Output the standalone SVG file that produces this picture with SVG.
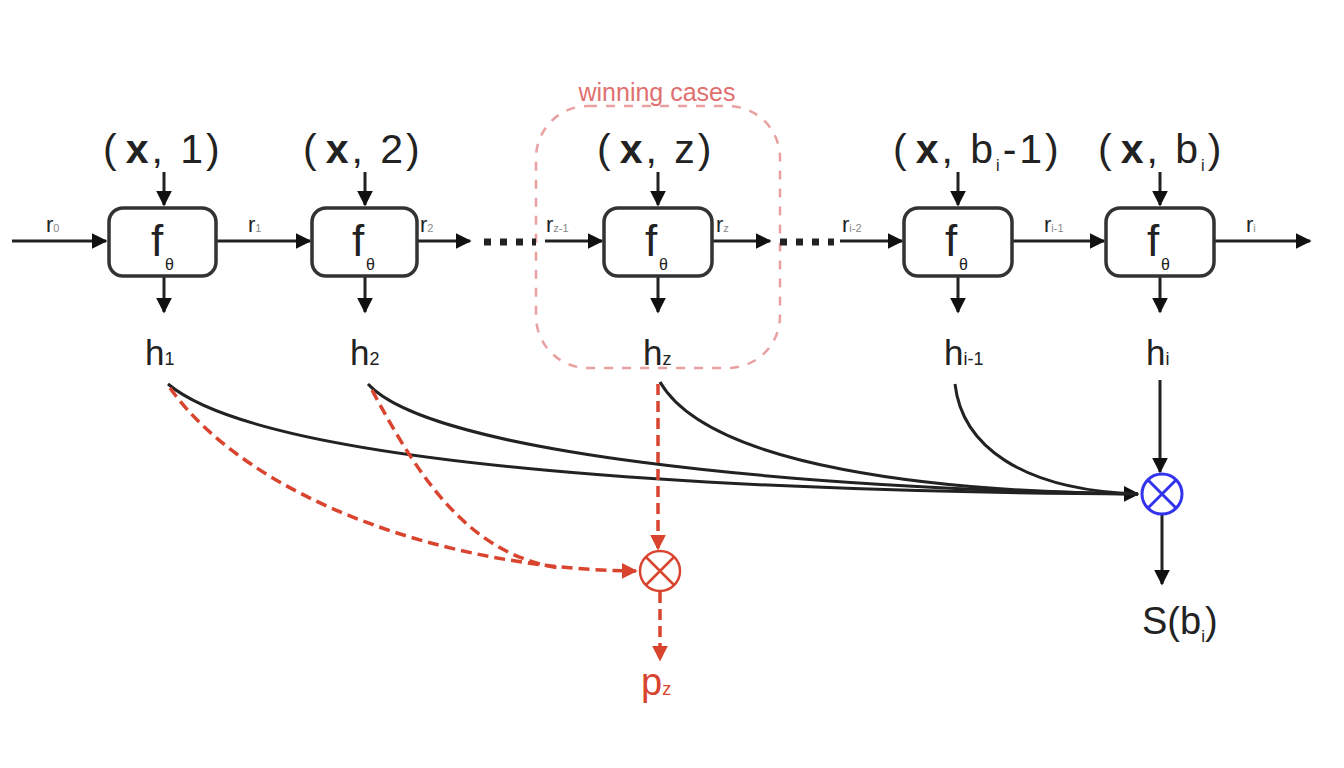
<svg xmlns="http://www.w3.org/2000/svg" width="1344" height="768" viewBox="0 0 1344 768">
<defs>
<marker id="ah" viewBox="0 0 10 10" refX="9" refY="5" markerWidth="16" markerHeight="16" markerUnits="userSpaceOnUse" orient="auto"><path d="M0,0 L10,5 L0,10 z" fill="#111"/></marker>
<marker id="ahr" viewBox="0 0 10 10" refX="9" refY="5" markerWidth="16" markerHeight="16" markerUnits="userSpaceOnUse" orient="auto"><path d="M0,0 L10,5 L0,10 z" fill="#d9442f"/></marker>
<style>
.box{fill:#fff;stroke:#333;stroke-width:3.5}
.ln{fill:none;stroke:#222;stroke-width:3}
.rd{fill:none;stroke:#d9442f;stroke-width:3.5;stroke-dasharray:11,6}
.t{font-family:"Liberation Sans",Arial,sans-serif;fill:#222}
.big{font-size:41px;letter-spacing:3px}
.f{font-size:44px}
.sub{font-size:16px}
.h{font-size:35px}
.rl{font-size:22px}
.rs{font-size:11px}
.dots{fill:none;stroke:#222;stroke-width:7;stroke-dasharray:7,9}
</style>
</defs>
<rect x="0" y="0" width="1344" height="768" fill="#fff"/>

<g id="winning">
<rect x="536" y="106" width="244" height="262" rx="52" fill="none" stroke="#e8a0a0" stroke-width="2.5" stroke-dasharray="9,9"/>
<text class="t" x="657" y="101" text-anchor="middle" style="font-size:25px;fill:#e07070">winning cases</text>
</g>

<g id="connectors">
<path class="ln" d="M12,241 L106,241" marker-end="url(#ah)"/>
<path class="ln" d="M216,241 L310,241" marker-end="url(#ah)"/>
<path class="ln" d="M417,241 L470,241" marker-end="url(#ah)"/>
<path class="dots" d="M484,242 L536,242"/>
<path class="ln" d="M545,241 L602,241" marker-end="url(#ah)"/>
<path class="ln" d="M712,241 L770,241" marker-end="url(#ah)"/>
<path class="dots" d="M780,242 L834,242"/>
<path class="ln" d="M840,241 L902,241" marker-end="url(#ah)"/>
<path class="ln" d="M1012,241 L1104,241" marker-end="url(#ah)"/>
<path class="ln" d="M1214,241 L1310,241" marker-end="url(#ah)"/>
<path class="ln" d="M164,172 L164,205" marker-end="url(#ah)"/>
<path class="ln" d="M365,172 L365,205" marker-end="url(#ah)"/>
<path class="ln" d="M658,172 L658,205" marker-end="url(#ah)"/>
<path class="ln" d="M958,172 L958,205" marker-end="url(#ah)"/>
<path class="ln" d="M1160,172 L1160,205" marker-end="url(#ah)"/>
<path class="ln" d="M164,276 L164,312" marker-end="url(#ah)"/>
<path class="ln" d="M365,276 L365,312" marker-end="url(#ah)"/>
<path class="ln" d="M658,276 L658,312" marker-end="url(#ah)"/>
<path class="ln" d="M958,276 L958,312" marker-end="url(#ah)"/>
<path class="ln" d="M1160,276 L1160,312" marker-end="url(#ah)"/>
<path class="ln" d="M168,384 C270,470 760,492 1138,494" marker-end="url(#ah)"/>
<path class="ln" d="M368,384 C430,452 780,488 1138,494"/>
<path class="ln" d="M660,382 C710,468 940,492 1138,494"/>
<path class="ln" d="M955,384 C962,445 1020,490 1138,494"/>
<path class="ln" d="M1160,380 L1160,472" marker-end="url(#ah)"/>
<path class="ln" d="M1162,514 L1162,584" marker-end="url(#ah)"/>
<path class="rd" d="M170,388 C250,500 450,570 636,571" marker-end="url(#ahr)"/>
<path class="rd" d="M372,390 C420,480 470,555 560,568"/>
<path class="rd" d="M658,384 L658,549" marker-end="url(#ahr)"/>
<path class="rd" d="M660,592 L660,660" marker-end="url(#ahr)"/>
</g>

<g id="node1">
<rect class="box" x="109" y="208" width="107" height="68" rx="14"/>
<text class="t f" x="151" y="256">f</text><text class="t sub" x="165" y="270">θ</text>
<text class="t big" x="103" y="163">(<tspan font-weight="bold" dx="6">x</tspan>, 1)</text>
<text class="t h" x="145" y="365">h<tspan font-size="18px">1</tspan></text>
</g>
<g id="node2">
<rect class="box" x="312" y="208" width="105" height="68" rx="14"/>
<text class="t f" x="352" y="256">f</text><text class="t sub" x="366" y="270">θ</text>
<text class="t big" x="303" y="163">(<tspan font-weight="bold" dx="6">x</tspan>, 2)</text>
<text class="t h" x="350" y="365">h<tspan font-size="18px">2</tspan></text>
</g>
<g id="node3">
<rect class="box" x="604" y="208" width="108" height="68" rx="14"/>
<text class="t f" x="645" y="256">f</text><text class="t sub" x="659" y="270">θ</text>
<text class="t big" x="597" y="163">(<tspan font-weight="bold" dx="6">x</tspan>, z)</text>
<text class="t h" x="643" y="365">h<tspan font-size="18px">z</tspan></text>
</g>
<g id="node4">
<rect class="box" x="904" y="208" width="108" height="68" rx="14"/>
<text class="t f" x="945" y="256">f</text><text class="t sub" x="959" y="270">θ</text>
<text class="t big" x="893" y="163">(<tspan font-weight="bold" dx="6">x</tspan>, b<tspan font-size="16px" dy="8">i</tspan><tspan dy="-8">-1)</tspan></text>
<text class="t h" x="944" y="365">h<tspan font-size="18px">i-1</tspan></text>
</g>
<g id="node5">
<rect class="box" x="1106" y="208" width="108" height="68" rx="14"/>
<text class="t f" x="1147" y="256">f</text><text class="t sub" x="1161" y="270">θ</text>
<text class="t big" x="1098" y="163">(<tspan font-weight="bold" dx="6">x</tspan>, b<tspan font-size="16px" dy="8">i</tspan><tspan dy="-8">)</tspan></text>
<text class="t h" x="1146" y="365">h<tspan font-size="18px">i</tspan></text>
</g>

<g id="rlabels">
<text class="t rl" x="46" y="232">r<tspan class="rs" fill="#888">0</tspan></text>
<text class="t rl" x="248" y="232">r<tspan class="rs" fill="#888">1</tspan></text>
<text class="t rl" x="420" y="232">r<tspan class="rs" fill="#888">2</tspan></text>
<text class="t rl" x="546" y="232">r<tspan class="rs" fill="#888">z-1</tspan></text>
<text class="t rl" x="716" y="232">r<tspan class="rs" fill="#888">z</tspan></text>
<text class="t rl" x="842" y="232">r<tspan class="rs" fill="#888">i-2</tspan></text>
<text class="t rl" x="1044" y="232">r<tspan class="rs" fill="#888">i-1</tspan></text>
<text class="t rl" x="1246" y="232">r<tspan class="rs" fill="#888">i</tspan></text>
</g>

<g id="redmul">
<circle cx="660" cy="571" r="20" fill="#fff" stroke="#d9442f" stroke-width="2.5"/>
<path d="M646,557 L674,585 M674,557 L646,585" stroke="#d9442f" stroke-width="2.5"/>
<text class="t" x="641" y="695" style="font-size:38px;fill:#d9442f">p<tspan font-size="18px">z</tspan></text>
</g>

<g id="bluemul">
<circle cx="1162" cy="494" r="20" fill="#fff" stroke="#3333ee" stroke-width="3"/>
<path d="M1148,480 L1176,508 M1176,480 L1148,508" stroke="#3333ee" stroke-width="3"/>
<text class="t" x="1142" y="634" style="font-size:38px">S(b<tspan font-size="17px" dy="8">i</tspan><tspan dy="-8">)</tspan></text>
</g>
</svg>
